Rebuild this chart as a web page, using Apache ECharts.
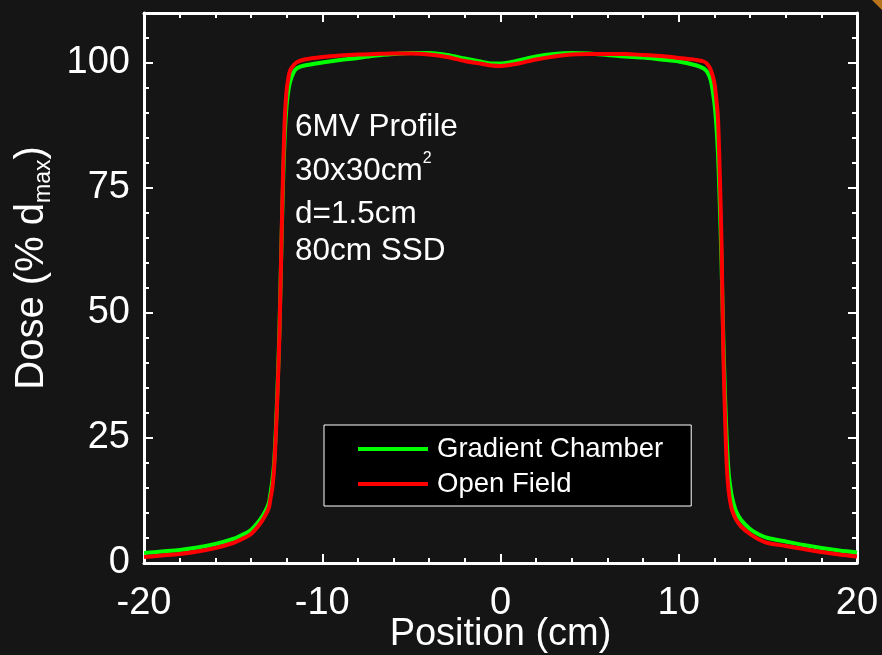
<!DOCTYPE html>
<html>
<head>
<meta charset="utf-8">
<script src="https://cdn.jsdelivr.net/npm/echarts@6/dist/echarts.min.js"></script>
<style>html,body{margin:0;padding:0;background:#151515;}#c{width:882px;height:655px;}</style>
</head>
<body>
<div id="c"></div>
<script>
// Position (cm)
const positions = [-20,-19,-18,-17,-16,-15,-14.5,-14,-13.5,-13.2,-13,-12.9,-12.8,-12.7,-12.6,-12.5,-12.4,-12.3,-12.2,-12.1,-12,-11.9,-11.8,-11.6,-11.4,-11,-10,-9,-8,-7,-6,-5,-4,-3,-2,-1,-0.5,0,0.5,1,2,3,4,5,6,7,8,9,10,11,11.4,11.6,11.8,12,12.1,12.2,12.3,12.4,12.5,12.6,12.7,12.8,12.9,13,13.2,13.5,14,14.5,15,16,17,18,19,20];
// Gradient Chamber dose (% dmax)
const gradientDose = [2.0,2.3,2.6,3.1,3.8,4.8,5.6,6.6,8.6,10.3,12,14,16.5,20,27,36,47,62,76,86,91.5,94.5,96.3,98.2,99.0,99.5,100.1,100.6,101.0,101.5,101.8,102.0,102.0,101.6,100.9,100.2,99.9,99.9,100.1,100.5,101.3,101.8,102.0,101.9,101.6,101.3,101.1,100.7,100.3,99.5,98.9,98.2,96.5,92,88,82,72,60,45,33,24,18,15,13,10.5,8.6,6.8,5.7,5.0,4.3,3.6,3.0,2.5,2.1];
// Open Field dose (% dmax)
const openDose = [1.2,1.5,1.8,2.3,3.0,4.0,4.8,5.8,7.8,9.5,11,13,15,19,26,35,46,62,78,89,94.5,97,98.5,99.6,100.2,100.7,101.2,101.5,101.7,101.8,101.9,101.9,101.7,101.2,100.4,99.8,99.5,99.4,99.6,99.9,100.7,101.3,101.7,101.8,101.8,101.8,101.6,101.4,101.0,100.6,100.3,99.8,98.6,96,93,89,78,64,42,29,19,14.5,12,10.5,8.8,7.3,5.8,4.7,4.0,3.4,2.8,2.2,1.7,1.3];
const xTicks = {min:-20, max:20, interval:10};
const yTicks = {min:0, max:110, interval:25, minorInterval:5};

const FONT = 'Liberation Sans, Arial, sans-serif';
const gridRect = {left:144, top:13, right:25, bottom:92, containLabel:false, outerBoundsMode:'none'};
const gSeries = positions.map((x,i)=>[x, gradientDose[i]]);
const oSeries = positions.map((x,i)=>[x, openDose[i]]);

const axLine = {show:true, onZero:false, lineStyle:{color:'#fff', width:3}};
const noLine = {show:false, onZero:false};
const majTick = {show:true, inside:true, length:9, lineStyle:{color:'#fff', width:2}};
const minTick = {show:true, inside:true, length:5, lineStyle:{color:'#fff', width:2}};
const chart = echarts.init(document.getElementById('c'));
chart.setOption({
  backgroundColor:'#151515',
  animation:false,
  grid:[Object.assign({}, gridRect), Object.assign({}, gridRect)],
  xAxis:[
    {gridIndex:0, type:'value', position:'bottom', min:xTicks.min, max:xTicks.max, interval:xTicks.interval,
     axisLine:axLine, splitLine:{show:false}, axisTick:majTick,
     minorTick:{show:true, splitNumber:5, length:5, lineStyle:{color:'#fff', width:2}},
     axisLabel:{color:'#fff', fontSize:38, fontFamily:FONT, margin:22},
     name:'Position (cm)', nameLocation:'middle', nameGap:53, nameMoveOverlap:false,
     nameTextStyle:{color:'#fff', fontSize:38, fontFamily:FONT}},
    {gridIndex:0, type:'value', position:'top', min:xTicks.min, max:xTicks.max, interval:xTicks.interval,
     axisLine:axLine, splitLine:{show:false}, axisTick:majTick,
     minorTick:{show:true, splitNumber:5, length:5, lineStyle:{color:'#fff', width:2}},
     axisLabel:{show:false}},
    {gridIndex:1, type:'value', show:false, min:xTicks.min, max:xTicks.max, axisLine:noLine}
  ],
  yAxis:[
    {gridIndex:0, type:'value', position:'left', min:yTicks.min, max:yTicks.max, interval:yTicks.interval,
     axisLine:axLine, splitLine:{show:false}, axisTick:majTick,
     axisLabel:{color:'#fff', fontSize:38, fontFamily:FONT, margin:14, showMaxLabel:false,
       formatter:v=> (v % 25 === 0 ? String(v) : '')},
     name:'{a|Dose (% d}{s|max}{a|)}', nameLocation:'middle', nameGap:89, nameRotate:90, nameMoveOverlap:false,
     nameTextStyle:{color:'#fff', fontFamily:FONT, padding:[0,0,0,40], rich:{
       a:{color:'#fff', fontSize:40, fontFamily:FONT, lineHeight:46, verticalAlign:'middle'},
       s:{color:'#fff', fontSize:23, fontFamily:FONT, lineHeight:46, verticalAlign:'bottom', padding:[15,0,0,0]}}}},
    {gridIndex:0, type:'value', position:'right', min:yTicks.min, max:yTicks.max, interval:yTicks.interval,
     axisLine:axLine, splitLine:{show:false}, axisTick:majTick, axisLabel:{show:false}},
    {gridIndex:1, type:'value', position:'left', min:yTicks.min, max:yTicks.max, interval:yTicks.minorInterval,
     axisLine:noLine, splitLine:{show:false}, axisTick:minTick, axisLabel:{show:false}},
    {gridIndex:1, type:'value', position:'right', min:yTicks.min, max:yTicks.max, interval:yTicks.minorInterval,
     axisLine:noLine, splitLine:{show:false}, axisTick:minTick, axisLabel:{show:false}}
  ],
  legend:{
    left:324, top:425, orient:'vertical',
    backgroundColor:'#000', borderColor:'#fff', borderWidth:1, borderRadius:0,
    padding:[10,28,8,34], itemGap:7, itemWidth:70, itemHeight:4, icon:'rect',
    textStyle:{color:'#fff', fontSize:27.5, fontFamily:FONT, padding:[0,0,0,4]},
    data:['Gradient Chamber','Open Field']
  },
  series:[
    {name:'Gradient Chamber', type:'line', xAxisIndex:0, yAxisIndex:0, data:gSeries, showSymbol:false, smooth:0.3,
     lineStyle:{color:'#00ff00', width:4}, itemStyle:{color:'#00ff00'}, z:2},
    {name:'Open Field', type:'line', xAxisIndex:0, yAxisIndex:0, data:oSeries, showSymbol:false, smooth:0.3,
     lineStyle:{color:'#ff0000', width:4}, itemStyle:{color:'#ff0000'}, z:3}
  ],
  graphic:[
    {type:'text', left:295, top:111, style:{text:'6MV Profile', fill:'#fff', fontSize:31.5, fontFamily:FONT}},
    {type:'text', left:295, top:151, style:{text:'{a|30x30cm}{b|2}', fill:'#fff', fontFamily:FONT,
       rich:{a:{fill:'#fff', fontSize:31.5, fontFamily:FONT, lineHeight:36, verticalAlign:'bottom'},
             b:{fill:'#fff', fontSize:16, fontFamily:FONT, lineHeight:36, verticalAlign:'top'}}}},
    {type:'text', left:295, top:198, style:{text:'d=1.5cm', fill:'#fff', fontSize:31.5, fontFamily:FONT}},
    {type:'text', left:295, top:235, style:{text:'80cm SSD', fill:'#fff', fontSize:31.5, fontFamily:FONT}},
    {type:'polygon', shape:{points:[[872,0],[882,0],[882,10]]}, style:{fill:'#b8741a'}}
  ]
});
</script>
</body>
</html>
